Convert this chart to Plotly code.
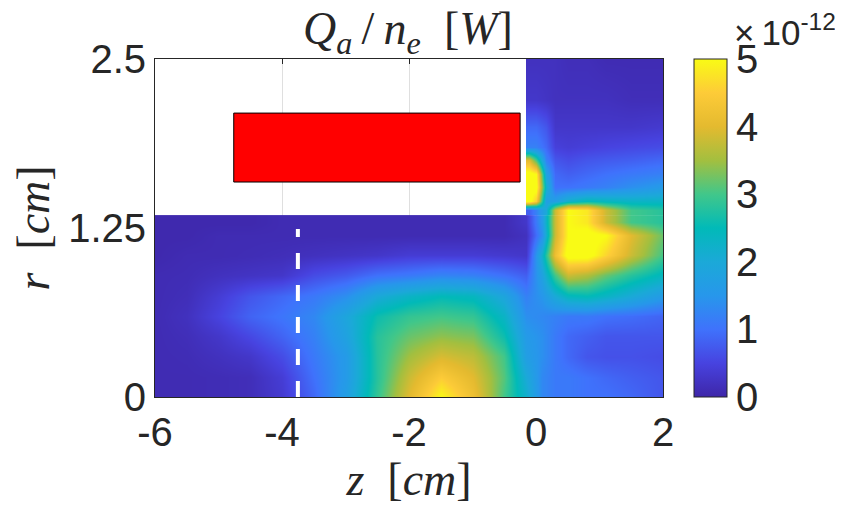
import plotly.graph_objects as go

# values in units of 1e-12 W
z_low = [-6, -5.5, -5, -4.5, -4, -3.5, -3, -2.5, -2, -1.5, -1, -0.5, -0.16, 0.1, 0.3, 0.5, 0.8, 1.1, 1.5, 2]
r_low = [0, 0.15, 0.3, 0.45, 0.6, 0.75, 0.9, 1.05, 1.2, 1.297]
q_low = [
    [.1, .1, .12, .15, .35, .9, 1.7, 2.9, 4.0, 5.0, 4.2, 3.0, 2.2, 1.3, 1.1, 1.1, 1, 1, .9, .7],
    [.1, .1, .12, .15, .4, 1.0, 1.6, 2.8, 3.8, 4.5, 4.0, 3.1, 2.0, 1.3, 1.1, 1.1, 1.0, .9, .8, .7],
    [.1, .12, .2, .3, .6, 1.1, 1.6, 2.8, 3.5, 3.9, 3.7, 3.0, 1.7, 1.4, 1.1, .9, .7, .65, .65, .6],
    [.1, .15, .3, .55, .85, 1.2, 1.8, 2.8, 3.2, 3.4, 3.3, 2.6, 1.6, 1.4, 1.1, .9, .8, .7, .7, .7],
    [.1, .2, .5, .85, 1.05, 1.3, 1.9, 2.6, 2.9, 3.0, 2.9, 2.3, 1.4, 1.3, 1.2, 1.1, 1.1, 1.0, .95, .85],
    [.1, .15, .4, .7, .9, 1.1, 1.4, 2.0, 2.3, 2.5, 2.4, 1.9, 1.2, 1.5, 2.0, 2.4, 2.5, 2.3, 2.0, 1.6],
    [.1, .12, .2, .25, .3, .6, .75, 1.0, 1.1, 1.25, 1.2, 1.0, .8, 1.8, 3.0, 3.8, 3.6, 3.2, 2.8, 2.4],
    [.05, .1, .1, .12, .15, .2, .25, .3, .4, .4, .4, .35, .3, 2.2, 4.2, 5.2, 5.2, 4.6, 3.8, 3.0],
    [.05, .05, .1, .1, .1, .1, .1, .1, .1, .1, .1, .1, .2, 1.4, 3.8, 5.0, 5.2, 5.0, 4.0, 3.2],
    [.05, .05, .05, .05, .1, .1, .1, .1, .1, .1, .1, .1, .3, 1.6, 3.8, 5.0, 4.8, 3.8, 3.0, 2.8],
]
z_up = [-0.105, 0, 0.15, 0.3, 0.5, 0.8, 1.1, 1.5, 2]
r_up = [1.381, 1.45, 1.55, 1.65, 1.75, 1.85, 2.0, 2.2, 2.5]
q_up = [
    [.8, 1.2, 2.0, 3.8, 5.0, 4.8, 3.8, 3.0, 2.8],
    [5.2, 4.5, 1.7, 1.7, 2.2, 2.5, 2.4, 2.3, 2.3],
    [5.2, 5.2, 2.2, 1.0, 1.0, 1.1, 1.2, 1.4, 1.6],
    [5.2, 5.0, 1.8, .9, .8, .9, 1.0, 1.1, 1.2],
    [4.0, 3.0, 1.2, .7, .6, .7, .75, .8, .9],
    [1.2, 1.2, .9, .45, .4, .45, .5, .55, .6],
    [.9, .9, .7, .3, .3, .3, .3, .3, .35],
    [.3, .3, .25, .2, .2, .2, .2, .15, .15],
    [.2, .2, .2, .2, .15, .15, .1, .1, .1],
]
probe_z = [-3.75, -3.75]
probe_r = [0, 1.243]
rect_z = [-4.76, -4.76, -0.25, -0.25, -4.76]
rect_r = [1.59, 2.1, 2.1, 1.59, 1.59]

parula = [
    [0.0, "#3e26a8"], [0.1, "#4743e0"], [0.2, "#3f72fc"], [0.3, "#2797eb"],
    [0.4, "#1ba9d8"], [0.5, "#01bab8"], [0.6, "#41c78a"], [0.7, "#a3bf3f"],
    [0.8, "#e4ba2f"], [0.9, "#fdcb38"], [1.0, "#f9fb15"],
]
TEXT = "#262626"
SANS = "Liberation Sans, Arial, sans-serif"
SERIF = "Liberation Serif, DejaVu Serif, serif"

fig = go.Figure()
fig.add_trace(go.Heatmap(x=z_low, y=r_low, z=q_low, coloraxis="coloraxis", zsmooth="best"))
fig.add_trace(go.Heatmap(x=z_up, y=r_up, z=q_up, coloraxis="coloraxis", zsmooth="best"))
fig.add_trace(go.Scatter(x=rect_z, y=rect_r, mode="lines", fill="toself", fillcolor="#ff0000",
                         line=dict(color="#000000", width=1), showlegend=False))
fig.add_trace(go.Scatter(x=probe_z, y=probe_r, mode="lines", showlegend=False,
                         line=dict(color="#ffffff", width=4, dash="16px 16px")))

fig.update_layout(
    width=835, height=508,
    margin=dict(l=147, r=180, t=51, b=119),
    paper_bgcolor="white", plot_bgcolor="white", showlegend=False,
    font=dict(family=SANS, size=40, color=TEXT),
    title=dict(text="<i>Q<sub>a</sub></i>\u2009/\u2009<i>n<sub>e</sub></i>  [<i>W</i>]", x=0.479, xanchor="center",
               y=0.96, yanchor="middle", font=dict(family=SERIF, size=46, color=TEXT)),
    xaxis=dict(range=[-6, 2], tickvals=[-6, -4, -2, 0, 2], ticktext=["-6", "-4", "-2", "0", "2"],
               showgrid=True, gridcolor="#dfdfdf", gridwidth=1, zeroline=False, layer="below traces",
               showline=True, linecolor=TEXT, mirror="ticks", ticks="inside", ticklen=5, tickcolor=TEXT,
               tickfont=dict(size=40),
               title=dict(text="<i>z</i>  [<i>cm</i>]", standoff=8, font=dict(family=SERIF, size=46, color=TEXT))),
    yaxis=dict(range=[0, 2.5], tickvals=[0, 1.25, 2.5], ticktext=["0", "1.25", "2.5"],
               showgrid=True, gridcolor="#dfdfdf", gridwidth=1, zeroline=False, layer="below traces",
               showline=True, linecolor=TEXT, mirror="ticks", ticks="inside", ticklen=5, tickcolor=TEXT,
               tickfont=dict(size=40),
               title=dict(text="<i>r</i>  [<i>cm</i>]", standoff=16, font=dict(family=SERIF, size=46, color=TEXT))),
    coloraxis=dict(cmin=0, cmax=5, colorscale=parula,
                   colorbar=dict(x=1.061, xanchor="left", y=0.5, yanchor="middle", len=1, lenmode="fraction",
                                 thickness=33, thicknessmode="pixels", outlinecolor=TEXT, outlinewidth=1,
                                 tickvals=[0, 1, 2, 3, 4, 5], ticks="inside", ticklen=0, xpad=0, ypad=0,
                                 tickfont=dict(family=SANS, size=40, color=TEXT))),
    annotations=[dict(text="×\u200910<sup>-12</sup>", xref="paper", yref="paper", x=1.136, y=1.015, xanchor="left",
                      yanchor="bottom", showarrow=False, font=dict(family=SANS, size=35, color=TEXT))],
)
fig.write_html("out.html", config={"displayModeBar": False})
